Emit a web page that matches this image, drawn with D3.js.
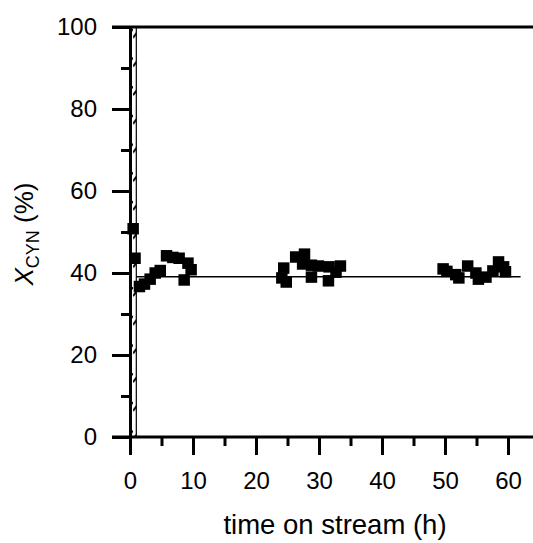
<!DOCTYPE html>
<html>
<head>
<meta charset="utf-8">
<script src="https://cdn.jsdelivr.net/npm/d3@7"></script>
<style>
  body { margin: 0; background: #fff; }
  text { font-family: "Liberation Sans", Arial, sans-serif; }
</style>
</head>
<body>
<script>
// data
const timeH = [0.5, 0.8, 1.5, 2.3, 3.2, 4.0, 4.8, 5.8, 6.8, 7.8, 8.6, 9.2, 9.7,
  24.1, 24.4, 24.8, 26.3, 27.4, 27.7, 28.8, 28.8, 29.9, 31.5, 31.6, 32.7, 33.4,
  49.7, 50.3, 51.7, 52.2, 53.6, 54.9, 55.3, 56.5, 57.6, 58.5, 59.3, 59.6];
const conversion = [50.8, 43.6, 36.7, 37.3, 38.5, 40.0, 40.6, 44.2, 43.8, 43.6, 38.3, 42.4, 40.8,
  38.8, 41.2, 37.8, 43.9, 42.2, 44.6, 41.9, 39.0, 41.7, 38.1, 41.5, 40.2, 41.7,
  41.0, 40.4, 39.6, 38.8, 41.7, 40.0, 38.5, 39.0, 40.5, 42.7, 41.5, 40.3];
const barRange = [0, 1];      // hatched bar, time (h)
const barValue = 100;
const meanRange = [1, 62];    // horizontal average line, time (h)
const meanValue = 39.1;
const xTicks = [0, 10, 20, 30, 40, 50, 60];
const xMinor = [5, 15, 25, 35, 45, 55];
const yTicks = [0, 20, 40, 60, 80, 100];
const yMinor = [10, 30, 50, 70, 90];

const w = 533;
const h = 543;

const svg = d3.select('body').append('svg').attr('width', w).attr('height', h);

const x = d3.scaleLinear().domain([0, 60]).range([130, 508]);
const y = d3.scaleLinear().domain([0, 100]).range([437, 27]);
const left = 112;
const right = w;

// hatch pattern for the bar
const pat = svg.append('defs').append('pattern')
  .attr('id', 'hatch')
  .attr('patternUnits', 'userSpaceOnUse')
  .attr('width', 7)
  .attr('height', 28.7);
pat.append('line')
  .attr('x1', 0).attr('y1', 9).attr('x2', 7).attr('y2', 0)
  .attr('stroke', '#000').attr('stroke-width', 2);

svg.append('rect')
  .attr('x', x(barRange[0]))
  .attr('y', y(barValue))
  .attr('width', x(barRange[1]) - x(barRange[0]))
  .attr('height', y(0) - y(barValue))
  .attr('fill', 'url(#hatch)')
  .attr('stroke', '#000')
  .attr('stroke-width', 1.2);

// average line
svg.append('line')
  .attr('x1', x(meanRange[0])).attr('x2', x(meanRange[1]))
  .attr('y1', y(meanValue)).attr('y2', y(meanValue))
  .attr('stroke', '#000').attr('stroke-width', 1.4);

// points
svg.append('g')
  .selectAll('path')
  .data(timeH.map((t, i) => [t, conversion[i]]))
  .enter()
  .append('path')
  .attr('d', d3.symbol(d3.symbolSquare, 132))
  .attr('transform', (d) => 'translate(' + x(d[0]) + ',' + y(d[1]) + ')')
  .attr('fill', '#000');

function styleAxis(g) {
  g.selectAll('path, line').attr('stroke', '#000').attr('stroke-width', 3);
  g.selectAll('text').attr('font-size', 24).attr('fill', '#000');
}

// x axis
const xAxis = svg.append('g')
  .attr('transform', 'translate(0,' + y(0) + ')')
  .call(d3.axisBottom(x).tickValues(xTicks).tickSize(18).tickPadding(17));
xAxis.select('.domain').attr('d', 'M' + left + ',0H' + right);
styleAxis(xAxis);

const xAxisMinor = svg.append('g')
  .attr('transform', 'translate(0,' + y(0) + ')')
  .call(d3.axisBottom(x).tickValues(xMinor).tickSize(9).tickFormat(''));
xAxisMinor.select('.domain').remove();
styleAxis(xAxisMinor);

// y axis
const yAxis = svg.append('g')
  .attr('transform', 'translate(' + x(0) + ',0)')
  .call(d3.axisLeft(y).tickValues(yTicks).tickSize(18).tickPadding(15));
styleAxis(yAxis);

const yAxisMinor = svg.append('g')
  .attr('transform', 'translate(' + x(0) + ',0)')
  .call(d3.axisLeft(y).tickValues(yMinor).tickSize(9).tickFormat(''));
yAxisMinor.select('.domain').remove();
styleAxis(yAxisMinor);

// top border
svg.append('line')
  .attr('x1', left).attr('x2', right)
  .attr('y1', y(100)).attr('y2', y(100))
  .attr('stroke', '#000').attr('stroke-width', 3);

// axis titles
svg.append('text')
  .attr('x', 335)
  .attr('y', 534)
  .attr('text-anchor', 'middle')
  .attr('font-size', 27.5)
  .text('time on stream (h)');

const yTitle = svg.append('text')
  .attr('transform', 'translate(33,' + (y(50) + 2) + ') rotate(-90)')
  .attr('text-anchor', 'middle')
  .attr('font-size', 26);
yTitle.append('tspan').attr('font-style', 'italic').text('X');
yTitle.append('tspan').attr('font-size', 18).attr('dy', 6).text('CYN');
yTitle.append('tspan').attr('dy', -6).text(' (%)');
</script>
</body>
</html>
